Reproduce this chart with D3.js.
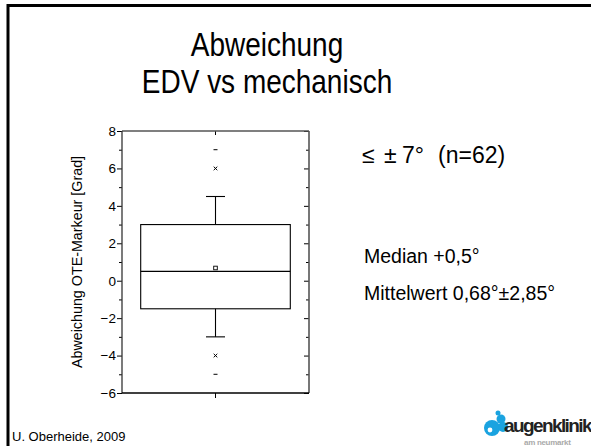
<!DOCTYPE html>
<html><head><meta charset="utf-8">
<script src="https://cdn.jsdelivr.net/npm/d3@7"></script>
<style>
html,body{margin:0;padding:0;background:#fff;}
svg{display:block;font-family:"Liberation Sans",Arial,sans-serif;}
</style></head>
<body><svg id="c" width="591" height="446"></svg>
<script>
// ---- data ----
const categories = ["EDV vs mechanisch"];
const q1 = [-1.5];
const median = [0.5];
const q3 = [3.0];
const whiskerLow = [-3.0];
const whiskerHigh = [4.5];
const meanVal = [0.68];
const outliers = [[6, -4]];
const extremes = [[7, -5]];
const yTicks = [-6, -4, -2, 0, 2, 4, 6, 8];
const yMinor = [-5, -3, -1, 1, 3, 5, 7];

const svg = d3.select("#c");

// slide border (left & top)
svg.append("path").attr("d", "M8,446 V5.5 H591").attr("fill", "none")
  .attr("stroke", "#000").attr("stroke-width", 3);

// title
svg.append("text").attr("transform", "translate(267,56) scale(1,1.2)").attr("text-anchor", "middle")
  .attr("font-size", 28).text("Abweichung");
svg.append("text").attr("transform", "translate(267,93) scale(1,1.2)").attr("text-anchor", "middle")
  .attr("font-size", 28).text("EDV vs mechanisch");

// scales
const y = d3.scaleLinear().domain([-6, 8]).range([393, 131]);
const x = d3.scaleBand().domain(categories).range([122, 309]).paddingInner(0).paddingOuter(0.125);
const L = 122, R = 309, T = y(8), B = y(-6);

const g = svg.append("g");

// left axis
const la = g.append("g").attr("transform", `translate(${L},0)`)
  .call(d3.axisLeft(y).tickValues(yTicks).tickSize(5).tickPadding(1).tickFormat(d3.format("d")));
la.select(".domain").remove();
la.selectAll("text").attr("font-size", 13.5).attr("font-family", "Liberation Sans, Arial, sans-serif").attr("fill", "#000");
la.selectAll("line").attr("stroke", "#000");
g.append("g").attr("transform", `translate(${L},0)`)
  .call(d3.axisLeft(y).tickValues(yMinor).tickSize(3).tickFormat(""))
  .call(s => s.select(".domain").remove());

// right axis (ticks inward)
g.append("g").attr("transform", `translate(${R},0)`)
  .call(d3.axisLeft(y).tickValues(yTicks).tickSize(5).tickFormat(""))
  .call(s => s.select(".domain").remove());
g.append("g").attr("transform", `translate(${R},0)`)
  .call(d3.axisLeft(y).tickValues(yMinor).tickSize(3).tickFormat(""))
  .call(s => s.select(".domain").remove());

// bottom axis tick
g.append("g").attr("transform", `translate(0,${B})`)
  .call(d3.axisBottom(x).tickSize(5).tickFormat(""))
  .call(s => s.select(".domain").remove());
// top axis tick inward
g.append("g").attr("transform", `translate(0,${T})`)
  .call(d3.axisBottom(x).tickSize(4).tickFormat(""))
  .call(s => s.select(".domain").remove());

// frame lines
g.append("line").attr("x1", L).attr("x2", R).attr("y1", T).attr("y2", T).attr("stroke", "#555").attr("stroke-width", 1.6);
g.append("line").attr("x1", R).attr("x2", R).attr("y1", T).attr("y2", B).attr("stroke", "#555").attr("stroke-width", 1.6);
g.append("line").attr("x1", L).attr("x2", L).attr("y1", T).attr("y2", B).attr("stroke", "#333").attr("stroke-width", 1.3);
g.append("line").attr("x1", L).attr("x2", R).attr("y1", B).attr("y2", B).attr("stroke", "#000").attr("stroke-width", 1.3);

// box plot
categories.forEach((c, i) => {
  const x0 = x(c), w = x.bandwidth(), cx = x0 + w / 2, cap = 9.5;
  const stroke = "#000", sw = 1.1;
  g.append("line").attr("x1", cx).attr("x2", cx).attr("y1", y(q3[i])).attr("y2", y(whiskerHigh[i])).attr("stroke", stroke).attr("stroke-width", sw);
  g.append("line").attr("x1", cx).attr("x2", cx).attr("y1", y(q1[i])).attr("y2", y(whiskerLow[i])).attr("stroke", stroke).attr("stroke-width", sw);
  g.append("line").attr("x1", cx - cap).attr("x2", cx + cap).attr("y1", y(whiskerHigh[i])).attr("y2", y(whiskerHigh[i])).attr("stroke", stroke).attr("stroke-width", sw);
  g.append("line").attr("x1", cx - cap).attr("x2", cx + cap).attr("y1", y(whiskerLow[i])).attr("y2", y(whiskerLow[i])).attr("stroke", stroke).attr("stroke-width", sw);
  g.append("rect").attr("x", x0).attr("width", w).attr("y", y(q3[i])).attr("height", y(q1[i]) - y(q3[i]))
    .attr("fill", "none").attr("stroke", stroke).attr("stroke-width", sw);
  g.append("line").attr("x1", x0).attr("x2", x0 + w).attr("y1", y(median[i])).attr("y2", y(median[i])).attr("stroke", stroke).attr("stroke-width", 1.3);
  g.append("rect").attr("x", cx - 1.8).attr("y", y(meanVal[i]) - 1.8).attr("width", 3.6).attr("height", 3.6)
    .attr("fill", "#fff").attr("stroke", stroke).attr("stroke-width", 0.9);
  outliers[i].forEach(v => {
    const yy = y(v), s = 1.8;
    g.append("path").attr("d", `M${cx - s},${yy - s}L${cx + s},${yy + s}M${cx - s},${yy + s}L${cx + s},${yy - s}`)
      .attr("stroke", stroke).attr("stroke-width", 1);
  });
  extremes[i].forEach(v => {
    g.append("line").attr("x1", cx - 2).attr("x2", cx + 2).attr("y1", y(v)).attr("y2", y(v)).attr("stroke", stroke).attr("stroke-width", 1);
  });
});

// y label
svg.append("text").attr("transform", `translate(81.5,${(T + B) / 2}) rotate(-90)`)
  .attr("text-anchor", "middle").attr("font-size", 14.3).text("Abweichung OTE-Markeur [Grad]");

// annotations
const t1 = svg.append("text").attr("y", 163).attr("font-size", 23);
t1.append("tspan").attr("x", 362).text("≤");
t1.append("tspan").attr("x", 384).text("±");
t1.append("tspan").attr("x", 402).text("7°");
t1.append("tspan").attr("x", 438).text("(n=62)");
svg.append("text").attr("x", 364).attr("y", 263).attr("font-size", 19.5).text("Median +0,5°");
svg.append("text").attr("x", 364).attr("y", 300).attr("font-size", 19.5).text("Mittelwert 0,68°±2,85°");

// footer
svg.append("text").attr("x", 12).attr("y", 441).attr("font-size", 13).text("U. Oberheide, 2009");

// logo
const lg = svg.append("g");
const blue = "#1aa3e0";
lg.append("circle").attr("cx", 492).attr("cy", 428).attr("r", 8).attr("fill", blue);
lg.append("circle").attr("cx", 501).attr("cy", 419).attr("r", 4.5).attr("fill", blue);
lg.append("circle").attr("cx", 498).attr("cy", 413).attr("r", 2.5).attr("fill", blue);
lg.append("circle").attr("cx", 503).attr("cy", 427).attr("r", 5).attr("fill", blue);
lg.append("circle").attr("cx", 490).attr("cy", 430).attr("r", 2.4).attr("fill", "#fff");
lg.append("text").attr("x", 504).attr("y", 432).attr("font-size", 19).attr("font-weight", "bold")
  .attr("letter-spacing", -1.6).attr("fill", "#222").text("augenklinik");
lg.append("text").attr("x", 524).attr("y", 445).attr("font-size", 8).attr("font-weight", "bold")
  .attr("letter-spacing", -0.3).attr("fill", "#aaa").text("am neumarkt");
</script>
</body></html>
